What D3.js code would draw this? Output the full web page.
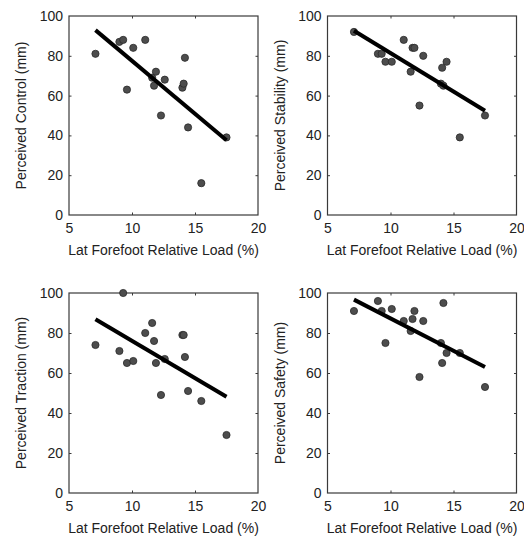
<!DOCTYPE html>
<html>
<head>
<meta charset="utf-8">
<script src="https://cdn.jsdelivr.net/npm/d3@7"></script>
<style>
  html, body { margin: 0; padding: 0; background: #fff; }
  svg { display: block; }
  text { font-family: "Liberation Sans", Arial, sans-serif; fill: #222; }
</style>
</head>
<body>
<svg id="chart" width="524" height="538"></svg>
<script>
// Lateral forefoot relative load (%) per subject, shared by all four panels
const loadPct = [7.1, 9.0, 9.3, 9.6, 10.1, 11.05, 11.6, 11.75, 11.9, 12.3, 12.6, 14.0, 14.1, 14.2, 14.45, 15.5, 17.5];

// Perceived ratings (mm, visual analogue scale)
const perceivedControl   = [81, 87, 88, 63, 84, 88, 69, 65, 72, 50, 68, 64, 66, 79, 44, 16, 39];
const perceivedStability = [92, 81, 81, 77, 77, 88, 72, 84, 84, 55, 80, 66, 74, 65, 77, 39, 50];
const perceivedTraction  = [74, 71, 100, 65, 66, 80, 85, 76, 65, 49, 67, 79, 79, 68, 51, 46, 29];
const perceivedSafety    = [91, 96, 91, 75, 92, 86, 81, 87, 91, 58, 86, 75, 65, 95, 70, 70, 53];

// Linear fit end points (x range and fitted y at each end)
const fitX = [7.1, 17.5];
const fitControl   = [92.9, 37.6];
const fitStability = [92.6, 52.4];
const fitTraction  = [86.9, 48.1];
const fitSafety    = [96.7, 63.0];

// Axis ticks and labels
const xTicks = [5, 10, 15, 20];
const yTicks = [0, 20, 40, 60, 80, 100];
const xLabel = "Lat Forefoot Relative Load (%)";
const yLabels = ["Perceived Control (mm)", "Perceived Stability (mm)", "Perceived Traction (mm)", "Perceived Safety (mm)"];

const panelValues = [perceivedControl, perceivedStability, perceivedTraction, perceivedSafety];
const panelFits = [fitControl, fitStability, fitTraction, fitSafety];

// Plot boxes for the 2x2 grid
const boxes = [
  { left: 69,    right: 258,   top: 16,  bottom: 215 },
  { left: 327.5, right: 516.5, top: 16,  bottom: 215 },
  { left: 69,    right: 258,   top: 293, bottom: 493 },
  { left: 327.5, right: 516.5, top: 293, bottom: 493 }
];

const svg = d3.select("#chart");
const axisColor = "#3a3a3a";
const fontSize = 14;

boxes.forEach((b, i) => {
  const x = d3.scaleLinear().domain([5, 20]).range([b.left, b.right]);
  const y = d3.scaleLinear().domain([0, 100]).range([b.bottom, b.top]);
  const g = svg.append("g");

  // Inward ticks on all four sides (end ticks omitted, they sit on the frame)
  const tickLen = 2.5;
  const bottomAxis = d3.axisBottom(x).tickValues(xTicks).tickSize(-tickLen).tickPadding(8).tickFormat(d3.format("d"));
  const topAxis = d3.axisTop(x).tickValues(xTicks.slice(1, -1)).tickSize(-tickLen).tickFormat("");
  const leftAxis = d3.axisLeft(y).tickValues(yTicks).tickSize(-tickLen).tickPadding(6).tickFormat(d3.format("d"));
  const rightAxis = d3.axisRight(y).tickValues(yTicks.slice(1, -1)).tickSize(-tickLen).tickFormat("");

  const styleAxis = sel => {
    sel.select(".domain").remove();
    sel.selectAll("line").attr("stroke", axisColor).attr("stroke-width", 1);
    sel.selectAll("text").style("font-size", fontSize + "px").attr("fill", "#222");
  };

  g.append("g").attr("transform", `translate(0,${b.bottom})`).call(bottomAxis).call(styleAxis)
    .selectAll(".tick").filter(d => d === 5 || d === 20).select("line").remove();
  g.append("g").attr("transform", `translate(0,${b.top})`).call(topAxis).call(styleAxis);
  g.append("g").attr("transform", `translate(${b.left},0)`).call(leftAxis).call(styleAxis)
    .selectAll(".tick").filter(d => d === 0 || d === 100).select("line").remove();
  g.append("g").attr("transform", `translate(${b.right},0)`).call(rightAxis).call(styleAxis);

  // Frame
  g.append("rect")
    .attr("x", b.left).attr("y", b.top)
    .attr("width", b.right - b.left).attr("height", b.bottom - b.top)
    .attr("fill", "none").attr("stroke", axisColor).attr("stroke-width", 1.2);

  // Subject markers
  const vals = panelValues[i];
  g.append("g").selectAll("circle")
    .data(loadPct.map((v, k) => [v, vals[k]]))
    .join("circle")
    .attr("cx", d => x(d[0]))
    .attr("cy", d => y(d[1]))
    .attr("r", 3.6)
    .attr("fill", "#4d4d4d")
    .attr("stroke", "#2a2a2a")
    .attr("stroke-width", 0.8);

  // Regression line
  const fit = panelFits[i];
  g.append("line")
    .attr("x1", x(fitX[0])).attr("y1", y(fit[0]))
    .attr("x2", x(fitX[1])).attr("y2", y(fit[1]))
    .attr("stroke", "#000").attr("stroke-width", 4);

  // Axis titles
  g.append("text")
    .attr("x", (b.left + b.right) / 2)
    .attr("y", b.bottom + 40)
    .attr("text-anchor", "middle")
    .style("font-size", fontSize + "px")
    .text(xLabel);

  g.append("text")
    .attr("transform", `translate(${b.left - 43},${(b.top + b.bottom) / 2}) rotate(-90)`)
    .attr("text-anchor", "middle")
    .style("font-size", fontSize + "px")
    .text(yLabels[i]);
});
</script>
</body>
</html>
